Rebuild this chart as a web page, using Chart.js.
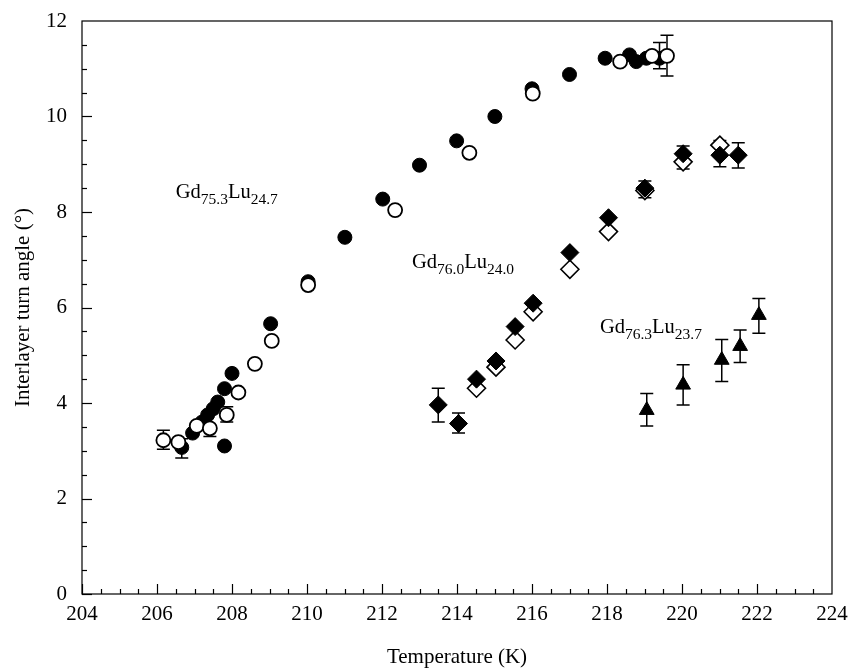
<!DOCTYPE html>
<html>
<head>
<meta charset="utf-8">
<script src="https://cdn.jsdelivr.net/npm/chart.js@4.4.0/dist/chart.umd.min.js"></script>
<style>
  html, body { margin: 0; padding: 0; background: #fff; }
  #wrap { width: 855px; height: 671px; }
</style>
</head>
<body>
<div id="wrap"><canvas id="c"></canvas></div>
<script>
// Gd75.3Lu24.7 - filled circles
const fcT   = [206.66, 206.95, 207.2, 207.35, 207.5, 207.62, 207.8, 207.8, 208.0, 209.03, 210.03, 211.01, 212.02, 213.0, 213.99, 215.01, 216.0, 217.0, 217.95, 218.6, 218.78, 219.05, 219.4];
const fcA   = [3.07, 3.37, 3.6, 3.75, 3.88, 4.02, 4.3, 3.1, 4.62, 5.66, 6.54, 7.47, 8.27, 8.98, 9.49, 10.0, 10.58, 10.88, 11.22, 11.29, 11.15, 11.22, 11.22];
const fcLo  = [2.85, null, null, null, null, null, null, null, null, null, null, null, null, null, null, null, null, null, null, null, null, null, 11.0];
const fcHi  = [3.25, null, null, null, null, null, null, null, null, null, null, null, null, null, null, null, null, null, null, null, null, null, 11.55];
// Gd75.3Lu24.7 - open circles
const ocT   = [206.17, 206.57, 207.06, 207.41, 207.86, 208.17, 208.61, 209.06, 210.03, 212.35, 214.33, 216.02, 218.35, 219.2, 219.6];
const ocA   = [3.22, 3.18, 3.52, 3.47, 3.75, 4.22, 4.82, 5.3, 6.47, 8.04, 9.24, 10.48, 11.15, 11.27, 11.27];
const ocLo  = [3.03, null, null, 3.3, 3.6, null, null, null, null, null, null, null, null, null, 10.85];
const ocHi  = [3.43, null, null, null, 3.92, null, null, null, null, null, null, null, null, null, 11.7];
// Gd76.0Lu24.0 - filled diamonds
const fdT   = [213.5, 214.04, 214.52, 215.04, 215.55, 216.03, 217.01, 218.04, 219.01, 220.03, 221.01, 221.5];
const fdA   = [3.96, 3.57, 4.5, 4.88, 5.6, 6.09, 7.15, 7.88, 8.5, 9.22, 9.19, 9.19];
const fdLo  = [3.6, 3.37, null, null, null, null, null, null, 8.3, 8.9, 8.95, 8.92];
const fdHi  = [4.31, 3.79, null, null, null, null, null, null, 8.65, 9.38, 9.5, 9.45];
// Gd76.0Lu24.0 - open diamonds
const odT   = [214.52, 215.04, 215.55, 216.03, 217.01, 218.04, 219.01, 220.03, 221.01];
const odA   = [4.31, 4.75, 5.32, 5.91, 6.8, 7.59, 8.45, 9.05, 9.4];
// Gd76.3Lu23.7 - filled triangles
const trT   = [219.06, 220.03, 221.06, 221.55, 222.05];
const trA   = [3.85, 4.38, 4.9, 5.19, 5.84];
const trLo  = [3.52, 3.96, 4.45, 4.85, 5.46];
const trHi  = [4.2, 4.8, 5.33, 5.53, 6.19];

const xTicks = [204, 206, 208, 210, 212, 214, 216, 218, 220, 222, 224];
const yTicks = [0, 2, 4, 6, 8, 10, 12];

const SERIF = "'Liberation Serif', 'Times New Roman', serif";

function pts(xs, ys) {
  return xs.map((v, i) => ({ x: v, y: ys[i] }));
}

// error bars, frame and inward tick marks
const decor = {
  id: 'decor',
  beforeDatasetsDraw(chart) {
    const { ctx, chartArea: a, scales: { x, y } } = chart;
    ctx.save();
    ctx.strokeStyle = '#000';
    ctx.lineWidth = 1.2;
    ctx.strokeRect(a.left, a.top, a.right - a.left, a.bottom - a.top);

    // majors from the tick lists, minors every quarter of a step
    for (let i = 0; i < xTicks.length - 1; i++) {
      const step = (xTicks[i + 1] - xTicks[i]) / 4;
      for (let k = 0; k < 4; k++) {
        const px = Math.round(x.getPixelForValue(xTicks[i] + k * step)) + 0.5;
        const len = k === 0 ? 10 : 5;
        ctx.beginPath();
        ctx.moveTo(px, a.bottom);
        ctx.lineTo(px, a.bottom - len);
        ctx.stroke();
      }
    }
    for (let i = 0; i < yTicks.length - 1; i++) {
      const step = (yTicks[i + 1] - yTicks[i]) / 4;
      for (let k = 0; k < 4; k++) {
        const py = Math.round(y.getPixelForValue(yTicks[i] + k * step)) + 0.5;
        const len = k === 0 ? 10 : 5;
        ctx.beginPath();
        ctx.moveTo(a.left, py);
        ctx.lineTo(a.left + len, py);
        ctx.stroke();
      }
    }

    // error bars
    ctx.lineWidth = 1.5;
    chart.data.datasets.forEach(ds => {
      if (!ds.errLo) return;
      ds.data.forEach((p, i) => {
        const lo = ds.errLo[i], hi = ds.errHi[i];
        if (lo == null && hi == null) return;
        const px = x.getPixelForValue(p.x);
        const pc = y.getPixelForValue(p.y);
        const cap = 6.5;
        ctx.beginPath();
        if (hi != null) {
          const ph = y.getPixelForValue(hi);
          ctx.moveTo(px, pc); ctx.lineTo(px, ph);
          ctx.moveTo(px - cap, ph); ctx.lineTo(px + cap, ph);
        }
        if (lo != null) {
          const pl = y.getPixelForValue(lo);
          ctx.moveTo(px, pc); ctx.lineTo(px, pl);
          ctx.moveTo(px - cap, pl); ctx.lineTo(px + cap, pl);
        }
        ctx.stroke();
      });
    });
    ctx.restore();
  },
  afterDraw(chart) {
    const { ctx, scales: { x, y } } = chart;
    const labels = [
      { t: 206.5, v: 8.3, parts: ['Gd', '75.3', 'Lu', '24.7'] },
      { t: 212.8, v: 6.82, parts: ['Gd', '76.0', 'Lu', '24.0'] },
      { t: 217.81, v: 5.46, parts: ['Gd', '76.3', 'Lu', '23.7'] }
    ];
    ctx.save();
    ctx.fillStyle = '#000';
    ctx.textBaseline = 'alphabetic';
    labels.forEach(l => {
      let px = x.getPixelForValue(l.t);
      const py = y.getPixelForValue(l.v);
      l.parts.forEach((s, i) => {
        const sub = i % 2 === 1;
        ctx.font = (sub ? '15.5px ' : '20.5px ') + SERIF;
        ctx.fillText(s, px, sub ? py + 6 : py);
        px += ctx.measureText(s).width;
      });
    });
    ctx.restore();
  }
};

new Chart(document.getElementById('c'), {
  type: 'scatter',
  data: {
    datasets: [
      {
        data: pts(ocT, ocA), errLo: ocLo, errHi: ocHi,
        pointStyle: 'circle', pointRadius: 7, borderWidth: 1.8,
        backgroundColor: '#fff', borderColor: '#000'
      },
      {
        data: pts(fcT, fcA), errLo: fcLo, errHi: fcHi,
        pointStyle: 'circle', pointRadius: 7, borderWidth: 1,
        backgroundColor: '#000', borderColor: '#000'
      },
      {
        data: pts(fdT, fdA), errLo: fdLo, errHi: fdHi,
        pointStyle: 'rectRot', pointRadius: 9, borderWidth: 1,
        backgroundColor: '#000', borderColor: '#000'
      },
      {
        data: pts(odT, odA),
        pointStyle: 'rectRot', pointRadius: 9, borderWidth: 1.6,
        backgroundColor: '#fff', borderColor: '#000'
      },
      {
        data: pts(trT, trA), errLo: trLo, errHi: trHi,
        pointStyle: 'triangle', pointRadius: 8.5, borderWidth: 1,
        backgroundColor: '#000', borderColor: '#000'
      }
    ]
  },
  options: {
    responsive: true,
    maintainAspectRatio: false,
    animation: false,
    layout: { padding: { left: 0, right: 23, top: 21, bottom: 0 } },
    plugins: { legend: { display: false }, tooltip: { enabled: false } },
    scales: {
      x: {
        type: 'linear', min: 204, max: 224,
        afterBuildTicks(s) { s.ticks = xTicks.map(v => ({ value: v })); },
        afterFit(s) { s.height = 77; },
        grid: { display: false, drawTicks: false },
        border: { display: false },
        ticks: {
          padding: 6, color: '#000', maxRotation: 0, autoSkip: false,
          font: { family: SERIF, size: 21, lineHeight: 1.4 }
        },
        title: {
          display: true, text: 'Temperature (K)', color: '#000',
          font: { family: SERIF, size: 21 },
          padding: { top: 0, bottom: 1 }
        }
      },
      y: {
        type: 'linear', min: 0, max: 12,
        afterBuildTicks(s) { s.ticks = yTicks.map(v => ({ value: v })); },
        afterFit(s) { s.width = 82; },
        grid: { display: false, drawTicks: false },
        border: { display: false },
        ticks: {
          padding: 15, color: '#000',
          font: { family: SERIF, size: 21, lineHeight: 0.4 }
        },
        title: {
          display: true, text: 'Interlayer turn angle (°)', color: '#000',
          font: { family: SERIF, size: 21 },
          padding: { top: 11, bottom: 0 }
        }
      }
    }
  },
  plugins: [decor]
});
</script>
</body>
</html>
